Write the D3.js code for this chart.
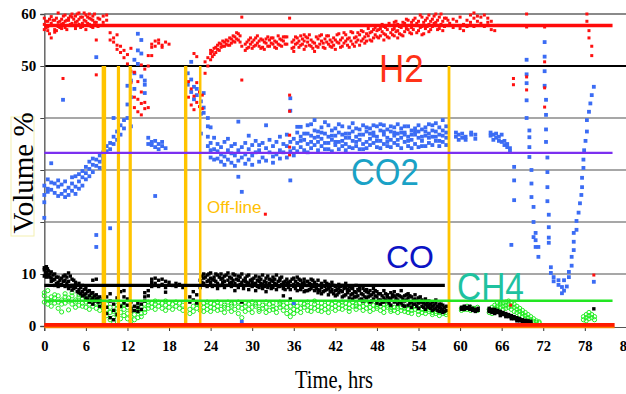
<!DOCTYPE html>
<html><head><meta charset="utf-8">
<script src="https://cdn.jsdelivr.net/npm/d3@7"></script>
<style>html,body{margin:0;padding:0;background:#fff;}svg{display:block;}</style>
</head><body>
<svg id="c" width="626" height="394"></svg>
<script>
// ---------- DATA ----------
const xTicks = [0,6,12,18,24,30,36,42,48,54,60,66,72,78,84];
const yGrid = [0,10,20,30,40,50,60];
const yTickLabels = [0,10,50,60];
const refNames = ["H2","CO2","CO","CH4"];
const refValues = [57.8, 33.3, 7.8, 4.85];
const refEnds = [82, 82, 57.8, 82];
const offlineTimes = [8.6, 10.7, 12.4, 20.4, 22.5, 58.4];
const offlineTop = 50;

// rows: [time, value, value, ...]
const h2Rows = [
[0,58,57,59.2],[0.5,57.5,58.6,56.8],[1,58.2,59.5,55.4],[1.5,57,58.8,56.5],[2,58.4,57.6,60.2],[2.5,59,57.2,58],
[2.7,47.6],[3,58.6,59.8,57.4],[3.5,57.8,59.2,58.8],[4,59.4,60,58.2],[4.5,58.4,59.6,57.2],[5,59,60.2,58],
[5.5,58.2,59.4,57.6],[6,59.8,58.6,57],[6.5,59.2,58,60],[7,58.8,57.4,59.6],[7.5,58.4,55,48.3],[8,59,57.8],
[8.5,59.6,58.4],[9,58.8,59.8],[9.5,56.4,55],[10,55.4,54.6],[10.5,54,53.2,56],[11,52.6,53.8],[11.5,51.6,53],
[12,52.2,50.4],[12.5,49,53.4,46.8],[13,44,42,48.8],[13.5,41.2,43.6,47],[14,40.6,42.8,45,50.2],[14.5,41.8,43,49.4],
[15,50,52,42],[15.5,54.2,53.6,52],[16,54.8,53.8],[16.5,54.4,55],[17,54,53.6],[17.5,54.6],[18,54.2],
[20.8,47,44],[21.2,45.6,42.5],[21.6,44.2,41.6,52.4],[22,46.8,43,51.8],[22.4,45,42.2],[22.8,44.4,41.8],
[23.2,50.8,48.6],[23.6,51.6,50],[24,52.4,51.2,53],[24.5,53.4,52.2],[25,54,53.2],[25.5,54.2,53.6],[26,54.6,53.8],
[26.5,54.8,54],[27,55.2,54.4],[27.5,55.6,54.6],[28,56.2,55],[28.5,53.8,47.3,59.4],[29,54.2,53],[29.5,55,53.6],
[30,54.6,53.4],[30.5,55.4,54],[31,54.8,53.8],[31.5,55,53.6],[31.9,21.5],[32,54.4,55.2],[32.5,53.8,55],[33,55.4,54.2],
[33.5,54.6,53.4],[34,55.2,54],[34.5,55.6,54.8],[35,54.2,55.6],[35.4,59.2,44.4,41.3,36.7,34.4,32.9],
[36,55,53.6,52.8],[36.5,54.4,55.4],[37,54,55.8],[37.5,53.2,54.8,56],[38,54.6,55.4],[38.5,53.8,55],[39,54.4,52.8],
[39.5,55.2,53.6],[40,54.8,56],[40.5,53.4,55.2],[41,54.2,55.8],[41.5,53.6,54.6],[42,55,53.2],[42.5,54.4,56.2],
[43,53.8,55.4],[43.5,54.8,56],[44,55.4,53.6],[44.5,54.2,56.4],[45,55.6,54.6],[45.5,56,54],[46,55.2,56.6],
[46.5,54.8,56.2],[47,56.4,55],[47.5,55.4,57],[48,56.8,55.6],[48.5,55.8,57.2],[49,56.2,57.6,55],[49.5,57,55.6],
[50,56.4,57.8],[50.5,55.8,57.2,58.4],[51,56.8,58,55.4],[51.5,57.4,56],[52,58.2,56.6],[52.5,57,58.8],
[53,56.2,58.4,57.4],[53.5,57.8,59.2],[54,56.8,58.6],[54.5,57.6,59.4,56],[55,58.8,57.2],[55.5,59.8,58,56.6],
[56,57.6,59],[56.5,58.4,60],[57,57.2,59.4],[57.5,58.6,56.8],[58,59.2,57.8],[58.5,58.2],[59,57.4,59],[59.5,58.6],
[60,57.2,59.4],[60.5,58,56.8],[61,57.6,58.8],[61.5,59.8,58.4],[62,59.2,57.6,60.2],[62.5,58.6,59.6],[63,58.2,59.4],
[63.5,57.6,59.8],[64,58.4,59.2],[64.5,57,58.6],[65,56.8],[65.5,57.8],[67.3,4],[67.7,47.6,46.4],
[69.6,60,57.5,47.9,45.4],[72.2,57.5,50.8,45.8,42.1],[78.3,60,58.6],[78.6,56.8,55.4],[79,53.8,52],[79.3,9.8]
];
const h2RowsB = [
[0.25,58.6,57.4],[0.75,59,56.2],[1.25,57.8,58.8],[1.75,59.2,56.8],[2.25,57.4,58.6],[2.75,58.2,59.6],[3.25,58.8,57],
[3.75,59.6,58],[4.25,57.8,59],[4.75,58.6,60],[5.25,59.4,57.4],[5.75,58.8,60.2],[6.25,58.2,59.4],[6.75,57.6,59],
[7.25,58.4,60],[7.75,59.2,57.6],
[24.25,52.8,51.8],[24.75,53.6,52.6],[25.25,54.4,53],[25.75,53.8,54.8],[26.25,54.2,55],[26.75,55.4,54],[27.25,54.8,55.8],
[27.75,55.2,56.4],[28.25,55.8,54.6],[29.25,53.4,54.6],[29.75,54.2,55.4],[30.25,53.8,55],[30.75,54.4,55.8],[31.25,53.4,55.2],
[31.75,54.6,53.2],[32.25,55.6,53.8],[32.75,54.4,55.4],[33.25,53.6,54.8],[33.75,55.8,54.2],[34.25,53.8,55],[34.75,54.2,55.6],
[35.75,53.4,54.6],[36.25,55.6,54.2],[36.75,53.6,54.8],[37.25,55.2,54.2],[37.75,53.8,55.6],[38.25,54,56],[38.75,54.6,53.4],
[39.25,55.6,53.8],[39.75,54.2,55.8],[40.25,54.4,53.6],[40.75,55.8,54.6],[41.25,53.8,55],[41.75,55.4,54],[42.25,54.6,56],
[42.75,55,53.6],[43.25,54.4,56.4],[43.75,55.2,54],[44.25,54.8,56.6],[44.75,55.4,53.8],[45.25,56.4,55],[45.75,54.8,56.8],
[46.25,55.6,54.4],[46.75,55.8,57.2],[47.25,54.8,56.6],[47.75,56,57.4],[48.25,55.4,57],[48.75,56.6,58],[49.25,56,57.4],
[49.75,55.4,58.2],[50.25,57,56],[50.75,56.6,58.6],[51.25,57.6,56.2],[51.75,55.8,58.4],[52.25,57.2,59],[52.75,56.4,57.8],
[53.25,58.8,57],[53.75,56.4,58.2],[54.25,57.4,59.8],[54.75,56.2,58.4],[55.25,57.6,59.2],[55.75,58.6,57],[56.25,58.2,59.6],
[56.75,57,58.8],[57.25,58,60],[57.75,57.6,59.2],[58.25,58.8]
];

const co2Rows = [
[0,27,25.2,23.8,20.8],[0.5,26.4,28.2,25.8],[1,27.6,26.2,31.3],[1.5,25.6,27.4],[2,26.8,25,28],[2.5,27.2,25.4],
[2.7,43.5],[3,26,27.8,24.8],[3.5,25.2,26.6],[4,27.4,26,28.6],[4.5,26.8,25.4,28.8],[5,27.8,29.2,26.4],
[5.5,28.6,27,29.8],[6,29.4,28.2,30.6],[6.5,30.2,28.8,31.6],[7,31,29.6,32.2],[7.5,30.8,32,51.7,17.5,15.2],
[8,31.6,32.8,30.4],[8.5,33.4,32.2],[9,34.6,33.6],[9.5,35.2,34,18.8],[10,36.4,35,40],[10.5,37.4,35.8],
[11,38.6,36.8],[11.5,39.6,38],[12,40,42.6,46.2],[12.5,44,47.2,38.4],[13,48.6,45.6,51.2],[13.5,53,56.2,50.4],
[14,55,52.4,48],[14.5,47.2,44.8,46.4],[15,36.2,35],[15.5,34.8,35.4],[16,34.4,35.6,25],[16.5,35,34],
[17,35.4,34.6],[17.5,34.2],[20.7,48.6,46.4],[21.2,50.8,47.4,45],[21.6,46,43.6],[22,44.4,45.6],
[22.6,43.2,40.8,37],[23,44.8,42,41],[23.6,38.4,40,34.6,36.4],[24,38.2,33.8,35.2,32.4],[24.5,36.2,34,32],
[25,33.6,32.2,35],[25.5,34.4,31.6,33],[26,32.6,35.4,31],[26.5,33.8,32,36],[27,34.6,31.4,33.2],
[27.5,32.8,35,30.8],[28,33.8,31.8,39.3,28.7],[28.5,34.4,32.4,25.8,0.8],[29,33,35.2,31.2],[29.5,34,32,36.6],
[30,32.8,34.8,31],[30.5,35.6,33.4],[31,33.8,31.6,34.8],[31.5,32.4,35.2],[32,34.2,38.6,31.8],[32.5,33.4,35.8],
[33,32.6,34.6,31.4],[33.5,35.4,33],[34,33.8,32.2,36.4],[34.5,35,33.4],[35,32.4,34.6,36.8],
[35.5,43.8,41.4,28,33.6,35.4],[36,34.2,36,32.8,4.4],[36.5,35.2,33.6,37.2,38.3],[37,36.4,34.4,38.3,35.6],
[37.5,33.8,35.8,37],[38,35,37,33.4,38.6],[38.5,36.6,34.2,38.8,35.4],[39,34.8,36.2,39.6,37.6],
[39.5,37.4,35.4,33.8,36.4],[40,36,34.6,38.2,37.2],[40.5,35.2,37,39.2,34],[41,34,36.4,38.6,35.2],
[41.5,35.8,37.6,33.6,36.6],[42,36.6,34.8,38,35.4],[42.5,35.4,37.2,34,38.8],[43,36.8,34.6,38.4,35.6],
[43.5,35,37,33.8,36.2],[44,36.2,38.2,34.4,37],[44.5,37.4,35.6,39,34.2],[45,34.6,36.4,38,35.4],
[45.5,35.8,37.8,34,36.8],[46,36.8,35,38.6,34],[46.5,37.4,35.4,34.2,38.2],[47,36,38,34.8,37],
[47.5,35.2,37.2,36.6,38.6],[48,36.4,38.4,34.4,35.6],[48.5,35.6,37.6,34.2,38.8],[49,36.8,35,38.6,37.4],
[49.5,34.6,36.2,37.8,35.4],[50,35.8,37.4,34.4,38.4],[50.5,36.6,35.2,38.2,37.2],[51,34.8,37,35.8,38.8],
[51.5,36.2,38,34.2,37.2],[52,35.4,37.2,36.8,38.4],[52.5,34.6,36.4,38.4,35.6],[53,35.8,37.6,34.2,36.8],
[53.5,36.8,35,38,37.4],[54,34.4,36.2,37.4,38.6],[54.5,35.6,37.8,36.4,34.6],[55,36.6,34.6,38.2,37.4],
[55.5,35.2,37,38.8,36.2],[56,36.4,34.8,37.6,38.6],[56.5,35.6,37.4,39,36.4],[57,36.8,34.6,38.2,35.6],
[57.5,35.4,37.6,39.6,36.6],[58,36.2,38.4,34.8,37.2],[59.4,36.4,37.2],[59.8,35.8,36.8],[60.3,37,36.2],
[60.8,36.4,35.8],[61.6,36.8,37.2],[62.2,36,36.8],[64.4,36.6,37.2],[64.8,35.8,36.8],[65.2,37,36.2],
[65.6,36.4,35.6],[66,36.8,35.4],[66.4,35.6,34.8],[66.8,35,34.4],[67.2,34.2,33.6],[67.4,15.6],
[67.8,30.6,28,24.2],[69.6,51.2,48.4,46.7,43.4,40],[70,37.6,36.3,34.4,32.5],[70.3,30,27.4,24.8],
[70.6,22.9,20,17.1],[70.9,15.2,16.5,17.9],[71.3,13.3,15.2],[72.2,54.6,51.8,49,46.2],[72.4,43.5,40.6,37.8,35.4],
[72.6,32.4,29.6,26.7,24],[72.8,21.4,19,17,16],[73.1,11.3,10.2],[73.5,9.4,8.6],[74.2,7.9,8.8],[74.7,6.3,7.5],
[75,6.8,8.8],[75.4,7.6],[75.7,9.4,10.4],[76.1,11.6,13.3],[76.4,14.6,16.2,17.9],[76.8,18.5,20.2],[77.1,21.8],
[77.3,23.6],[77.5,25.2],[77.6,26.7,28.5],[77.8,30.4,32],[77.9,33.8],[78.1,35.6],[78.3,37.4,39.6],[78.6,41.2],
[78.8,42.8],[79,44.4],[79.3,46,8.5]
];

const coRows = [
[0,10.8,9.6,11.2],[0.3,10.2,11.4,9.4],[0.6,9.8,10.6],[1,9.2,10.4,8.6],[1.5,9,7.8,10],[2,8.4,9.4,7.6],
[2.5,8,9.2],[3,7.6,8.8,9.8],[3.5,8.6,7.2,10.2],[4,7.8,9,6.9],[4.5,8.4,7.4],[5,7,8.2,6.4],[5.5,6.6,7.8,5.8],
[6,6.2,7.2,5.4],[6.5,5.8,6.8,4.6],[7,5.4,6.4,4.2,8.8],[7.5,5.2,6,9],[8,4.8,5.6,3.8],[8.5,4.4,5.2],
[9,3.6,5.6,2.4],[9.5,4.8,1.6,6.2],[10,3,1.2,4.2],[10.5,5.4,2.2],[11,3.8,6.6],[11.5,5.6,4.4,6.8],[12,4,5.2],
[12.5,3.4,2.8,4.6],[13,3,3.8],[13.5,2.8,3.6,4.4],[14,4.2,3.2],[14.5,4.8,5.6,6.4],[15,5.8,6.8],[15.5,7.6,8.4,9],
[16,8.2,7.8,9.2],[16.5,8.8,7.6],[17,8,9],[17.5,8.6,7.4,6.5],[18,8.4],[18.5,7.8],[19,8.2,7.6],[19.5,8],[20,7.4],
[21,5.6,4.6],[21.5,6.6,5],[22,6,4.4],[22.5,7.4,8.8],[23,9.2,8.2,10],[23.5,8.6,9.8,7.6],[24,10.2,8.4,9.2],
[24.5,9.4,7.8,8.8],[25,9.8,8.2,7.2],[25.5,9,10,7.8],[26,8.6,9.6,7.4],[26.5,10.2,8.8],[27,9.2,7.6,8.4],
[27.5,9.8,8.2,6.8],[28,8.8,9.6,7.4],[28.5,10,8.4,4.6],[29,9.2,7.8,8.6],[29.5,8.2,9.8,7],[30,9,7.6,8.4],
[30.5,9.6,8.2,6.8],[31,8.6,7.4,9.4],[31.5,9.8,8,7.2],[32,8.4,9.2,6.6],[32.5,7.8,9,8.2],[33,9.4,7.4,8.6],
[33.5,8,9.8,7],[34,8.8,7.6,9.2],[34.5,7.2,8.4,5.8],[35,9,7.8,8.2],[35.5,8.6,7,5.2],[36,9.2,7.6,8],
[36.5,8.2,6.8,9.4],[37,7.6,8.8,7],[37.5,8.4,6.6,9],[38,7.8,8.6,6.8],[38.5,9,7.2,8],[39,6.8,8.4,7.6],
[39.5,8.8,7,6.4],[40,7.4,8.2,6.2],[40.5,8.6,6.8,7.6],[41,7.2,6,8],[41.5,8.4,6.6,7],[42,7.6,5.8,6.8],
[42.5,8,6.4,7.2],[43,6.6,7.8,5.6],[43.5,7.4,6,8.2],[44,6.8,5.4,7.6],[44.5,7.2,6.2,5.2],[45,6.4,7.8,5.6],
[45.5,6.8,5,7.4],[46,6,7.2,4.8],[46.5,6.6,5.4,7],[47,5.8,6.8,4.6],[47.5,6.4,5.2,7.2],[48,5.6,6.6,4.4],
[48.5,6.2,5,4.2],[49,5.4,6.8,4.6],[49.5,6,4.8,5.6],[50,5.2,6.4,4],[50.5,5.8,4.6,6.6],[51,5,4.2,6],
[51.5,5.6,4.4,6.8],[52,4.8,5.8,3.8],[52.5,5.4,4,6.2],[53,4.6,5.6,3.6],[53.5,5.2,4.2,6],[54,4.4,5.4,3.4],
[54.5,5,3.8,4.6],[55,4.2,5.2,3.2],[55.5,4.8,3.6,4],[56,3.8,4.6,3],[56.5,4.4,3.4,5],[57,3.6,4.2,2.8],
[57.5,3.2,4,2.6],[58,3,3.8],[60.2,3.6,3.2],[60.6,3.8,3.2],[61,3.4,3.6],[61.4,3.2,3.8],[61.8,3,3.4],
[62.2,3.2,2.8],[62.6,3,3.4],[64.2,3.4,2.8,3],[64.6,3.2,2.6,2.9],[65,2.8,2.4,3.2],[65.4,2.6,3],[65.8,2.4,2.8,2],
[66.2,2.2,2.6],[66.6,2,2.4,1.8],[67,1.8,2.2],[67.4,1.6,2,1.4],[67.8,1.4,1.8],[68.2,1.2,1.6,1],[68.6,1,1.4],
[69,0.9,1.2],[69.4,0.8,1.1],[69.8,0.7,1],[70.2,0.6,0.9],[79.3,3.3]
];
const coRowsB = [
[0.15,10.4,9.8],[0.45,11,9.6],[0.8,10,9.4],[1.25,9.8,8.8],[1.75,9.4,8.2],[2.25,8.8,7.8],[2.75,8.6,9.6],[3.25,8.2,9.4],
[3.75,7.6,9.6],[4.25,8.8,7.2],[4.75,7.8,6.6],[5.25,7.4,6.2],[5.75,7,6],[6.25,6.6,5.2],[6.75,6.2,5],[7.25,5.8,4.8],
[7.75,5.4,4.6],
[22.75,8.4,9.6],[23.25,9.4,7.8],[23.75,10,8.8],[24.25,9,7.6],[24.75,8.6,10],[25.25,9.4,7.8],[25.75,8.4,9.2],
[26.25,9.8,7.8],[26.75,8.2,9.4],[27.25,8.8,10],[27.75,7.8,9],[28.25,9.4,8],[28.75,8.8,7.2],[29.25,9.6,8.4],
[29.75,7.8,8.8],[30.25,9.2,8],[30.75,7.6,8.8],[31.25,9,8.2],[31.75,8.6,7.6],[32.25,7.4,9.6],[32.75,8.8,7.2],
[33.25,8.2,9],[33.75,7.6,8.6],[34.25,9.4,8],[34.75,7,8.6],[35.25,8.4,7.4],[35.75,9,7.8],[36.25,7.2,8.6],
[36.75,8,9],[37.25,7.4,8.2],[37.75,6.8,7.8],[38.25,8.2,7],[38.75,7.6,8.8],[39.25,7.2,8],[39.75,6.8,7.8],
[40.25,7.8,6.6],[40.75,7,8.2],[41.25,6.6,7.6],[41.75,7.8,6.2],[42.25,7,6],[42.75,6.8,7.6],[43.25,7.2,5.8],
[43.75,6.4,7],[44.25,6,7.4],[44.75,6.6,5.6],[45.25,7,5.8],[45.75,6.2,5.2],[46.25,6.8,5.6],[46.75,5.6,6.4],
[47.25,6,4.8],[47.75,5.8,6.8],[48.25,5,6.2],[48.75,5.8,4.6],[49.25,6.2,5],[49.75,5.4,4.4],[50.25,5.6,6],
[50.75,4.8,5.4],[51.25,5.8,4.6],[51.75,5.2,4],[52.25,5,6],[52.75,4.4,5.8],[53.25,4.2,5],[53.75,4.8,3.8],
[54.25,4.6,5.6],[54.75,4.4,3.6],[55.25,4.4,3.8],[55.75,4.2,3.4],[56.25,4,3.2],[56.75,3.8,3],[57.25,3.4,4.2],
[57.75,3.6,2.8]
];

const ch4Rows = [
[0,5.8,4.6,6.4],[0.5,5.2,6.8,4.2],[1,4.8,5.6,3.8],[1.5,5.4,4.4,6],[2,4.6,5.8,3.4],[2.5,5,2.7,4.2],
[3,5.6,4.4,6.2],[3.5,4.8,5.4,3.1],[4,5.8,4.2,6.4],[4.5,5,4.6,3.6],[5,5.6,4,6],[5.5,4.4,5.2,3.8],[6,5.4,4.6,3.6],
[6.5,4.2,5,3.2],[7,4.8,3.8,5.4],[7.5,4.4,3.4,5],[8,4,4.8,3],[8.5,3.6,4.4],[9,3.2,2,4.2],[9.5,2.6,1.2,3.6],
[10,1.6,2.8,0.8],[10.5,3.4,2.2,4],[11,2.6,1.4,3.8],[11.5,3.2,2,4.2],[12,2.4,3.6,1.4],[12.5,1.8,3,0.9],
[13,2.2,3.4,1.2],[13.5,1.6,2.8,3.8],[14,2.4,3.6,1.8],[14.5,3.2,4.2,2.6],[15,4,3.4,4.6],[15.5,4.4,3.6],
[16,4.2,3.2,4.8],[16.5,3.8,4.6],[17,4.4,3.4],[17.5,4,4.8,3],[18,3.6,4.4],[18.5,4.2,3.2],[19,3.8,4.6],
[19.5,4.4,3.4],[20,3,4],[21,3.2,2.4],[21.5,3.8,2.8],[22,3.4,4.2],[22.5,3,4],[23,4.4,3.6,2.8],[23.5,4,3.2,4.6],
[24,3.6,4.4,2.8],[24.5,4.2,3.4],[25,3.8,4.6,3],[25.5,4.4,3.2],[26,4,3.6,2.6],[26.5,4.6,3.4],[27,3.8,4.2,2.8],
[27.5,4.4,3.2],[28,3.6,4.6,2.4],[28.5,4.2,1.6,3.4],[29,3.8,4.4,2.8],[29.5,3.2,4.2],[30,4.6,3.6,2.6],
[30.5,3.8,4.2],[31,3.2,4.4,2.8],[31.5,4,3.4],[32,3.6,4.6,2.6],[32.5,4.2,3],[33,3.8,4.4,3.2],[33.5,3.4,2.6],
[34,4.2,3.6,4.6],[34.5,3,4],[35,3.6,2.4,4.4],[35.5,2.8,1.8,3.8],[36,3.2,4.2,2.4],[36.5,3.8,3],[37,4.4,3.4,2.6],
[37.5,3.6,4.2],[38,3,4,4.6],[38.5,3.6,2.8],[39,4.2,3.4,4.8],[39.5,3.8,3],[40,4.4,3.6,2.8],[40.5,4,3.2],
[41,3.6,4.4,2.6],[41.5,4.2,3.4],[42,3.8,4.6,3],[42.5,3.4,4.2],[43,4,3.2,4.6],[43.5,3.6,4.4],[44,4.2,3.4,2.8],
[44.5,3.8,4.6],[45,3.2,4.2,3.8],[45.5,4.4,3.6],[46,3.8,4.6,3],[46.5,4.2,3.4],[47,3.6,4.4,2.8],[47.5,4,3.2],
[48,3.4,4.2,3.8],[48.5,3.8,3],[49,4.2,3.4,2.6],[49.5,3.6,4],[50,3.2,3.8,2.8],[50.5,3.6,3],[51,3.4,2.6,3.8],
[51.5,3,3.6],[52,3.4,2.8,3.8],[52.5,3.2,2.6],[53,3.6,3,2.4],[53.5,3.2,3.8],[54,2.8,3.4,2.2],[54.5,3.2,2.6],
[55,3,2.4,3.6],[55.5,2.8,3.2],[56,2.6,3,2.2],[56.5,2.8,2.4],[57,2.6,3,2],[57.5,2.4,2.8],[58,2.6,2.2],
[60.2,3.4,3],[60.6,3.6,3.2],[61,3.2,3.8],[61.5,3.6,3],[62,3.4,3.2],[62.5,3,3.6],[64.2,2.6,3.2],
[64.6,3,3.6,2.4],[65,3.4,4,2.8],[65.4,3.8,4.4,3.2],[65.8,4.2,3.6,4.6],[66.2,4.4,3.8,3.2],[66.6,4.6,4,3.4],
[67,4.8,4.2,3.6],[67.4,4.4,3.8,3.2],[67.8,4.2,3.6,2.8],[68.2,3.8,3.2,2.6],[68.6,3.4,2.8,2.2],[69,3,2.4,1.8],
[69.4,2.6,2,1.4],[69.8,2.2,1.6,1],[70.2,1.8,1.2,0.8],[70.6,1.4,0.9],[71,1,0.7],[71.4,0.8,0.6],
[77.8,1.2,1.8],[78.2,1.6,2.2,1],[78.6,2,2.6,1.4],[79,2.2,1.6],[79.4,1.8,1.2]
];

// ---------- DRAW ----------
const flat = rows => rows.flatMap(([t, ...vs]) => vs.map(v => ({t, v})));
const svg = d3.select("#c");
const x = d3.scaleLinear().domain([0, 84]).range([44.3, 626.4]);
const y = d3.scaleLinear().domain([0, 60]).range([326, 14]);
const serif = "'Liberation Serif','Times New Roman',serif";
const sans = "'Liberation Sans',Arial,sans-serif";

svg.append("rect").attr("width",626).attr("height",394).attr("fill","#fff");

// gridlines
svg.append("g").selectAll("line").data(yGrid.filter(d => d !== 0)).join("line")
  .attr("x1", x(0)).attr("x2", 626)
  .attr("y1", d => y(d)).attr("y2", d => y(d))
  .attr("stroke", d => d === 50 ? "#000" : "#8a8a8a")
  .attr("stroke-width", d => d === 50 ? 2 : (d === 60 ? 2 : 1.5));

// y axis
const yAxis = d3.axisLeft(y).tickValues(yGrid).tickSize(4).tickFormat(d => yTickLabels.includes(d) ? d : "");
const gy = svg.append("g").attr("transform", `translate(${x(0)},0)`).call(yAxis);
gy.select(".domain").attr("stroke", "#666").attr("stroke-width", 1.5);
gy.selectAll(".tick line").attr("stroke", "#444");
gy.selectAll(".tick text").attr("font-family", serif).attr("font-weight", "bold")
  .attr("font-size", 15).attr("fill", "#000").attr("x", -8);

// x axis
const xAxis = d3.axisBottom(x).tickValues(xTicks).tickSize(4).tickPadding(10);
const gx = svg.append("g").attr("transform", `translate(0,${y(0) + 1})`).call(xAxis);
gx.select(".domain").attr("stroke", "#555").attr("stroke-width", 1);
gx.selectAll(".tick line").attr("stroke", "#333");
gx.selectAll(".tick text").attr("font-family", serif).attr("font-weight", "bold")
  .attr("font-size", 14.5).attr("fill", "#000");

// points
const gp = svg.append("g");
gp.selectAll(".ch4").data(flat(ch4Rows)).join("circle")
  .attr("cx", d => x(d.t)).attr("cy", d => y(d.v)).attr("r", 2.1)
  .attr("fill", "none").attr("stroke", "#22ee22").attr("stroke-width", 1);
gp.selectAll(".co").data(flat(coRows.concat(coRowsB))).join("rect")
  .attr("x", d => x(d.t) - 1.7).attr("y", d => y(d.v) - 1.7).attr("width", 3.4).attr("height", 3.4)
  .attr("fill", "#000");
gp.selectAll(".co2").data(flat(co2Rows)).join("rect")
  .attr("x", d => x(d.t) - 1.9).attr("y", d => y(d.v) - 1.9).attr("width", 3.8).attr("height", 3.8)
  .attr("fill", "#3b6cf4");
gp.selectAll(".h2").data(flat(h2Rows.concat(h2RowsB))).join("rect")
  .attr("x", d => x(d.t) - 1.5).attr("y", d => y(d.v) - 1.5).attr("width", 3).attr("height", 3)
  .attr("fill", "#ff1010");

// off-line markers
const offW = [4.5, 3.2, 3.2, 3.4, 2.5, 2.8];
svg.append("g").selectAll("line").data(offlineTimes).join("line")
  .attr("x1", d => x(d)).attr("x2", d => x(d))
  .attr("y1", y(offlineTop)).attr("y2", y(0))
  .attr("stroke", "#ffc400").attr("stroke-width", (d, i) => offW[i]);

// reference lines
const refColors = ["#ff0a0a", "#7b2ff0", "#000", "#22e622"];
const refW = [3.5, 2.2, 3.2, 2.5];
svg.append("g").selectAll("line").data(refValues).join("line")
  .attr("x1", x(0)).attr("x2", (d, i) => x(refEnds[i]))
  .attr("y1", d => y(d)).attr("y2", d => y(d))
  .attr("stroke", (d, i) => refColors[i]).attr("stroke-width", (d, i) => refW[i]);

// zero line (red/orange)
svg.append("line").attr("x1", x(0)).attr("x2", x(82.3)).attr("y1", y(0) - 1).attr("y2", y(0) - 1)
  .attr("stroke", "#ff1a00").attr("stroke-width", 4);
svg.append("line").attr("x1", x(0)).attr("x2", x(82.3)).attr("y1", y(0) + 1.5).attr("y2", y(0) + 1.5)
  .attr("stroke", "#ff7a00").attr("stroke-width", 1.5);

// series labels
const lab = (txt, tx, ty, size, color, sy) =>
  svg.append("text").attr("transform", `translate(${tx},${ty}) scale(1,${sy})`)
    .attr("font-family", sans).attr("font-size", size).attr("fill", color).text(txt);
lab(refNames[0], 379, 81.5, 35, "#ff3318", 1.12);
lab(refNames[1], 351, 184.5, 33, "#1aa2c6", 1.1);
lab(refNames[2], 386, 267.5, 32, "#0c14c4", 1.0);
lab(refNames[3], 457, 300, 33.5, "#1fc29f", 1.14);
lab("Off-line", 207, 213, 17, "#ffc000", 1.0);

// axis titles
svg.append("rect").attr("x", 11).attr("y", 117).attr("width", 23).attr("height", 119)
  .attr("fill", "none").attr("stroke", "#f3efb0").attr("stroke-width", 1);
svg.append("text").attr("transform", "translate(33,173) rotate(-90)")
  .attr("text-anchor", "middle").attr("font-family", serif).attr("font-size", 29)
  .attr("fill", "#000").text("Volume %");
svg.append("text").attr("x", 295).attr("y", 388)
  .attr("font-family", serif).attr("font-size", 26).attr("fill", "#000")
  .attr("textLength", 78).attr("lengthAdjust", "spacingAndGlyphs").text("Time, hrs");
</script>
</body></html>
